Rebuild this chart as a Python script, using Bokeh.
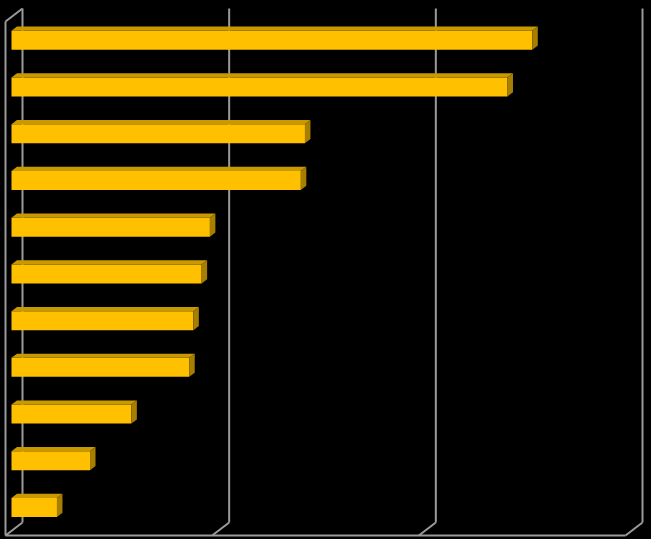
import numpy as np
from bokeh.plotting import figure
from bokeh.models import Range1d
from bokeh.embed import file_html
from bokeh.resources import INLINE

# ---- data ----
categories = ["1", "2", "3", "4", "5", "6", "7", "8", "9", "10", "11"]
values = [25.2, 24.0, 14.2, 14.0, 9.6, 9.2, 8.8, 8.6, 5.8, 3.8, 2.2]
ticks = [0, 10, 20, 30]

# ---- 3D geometry (style) ----
VMAX = ticks[-1]
N = len(categories)
DX = VMAX * 17.0 / 620.0      # depth offset in value units (full depth)
DY = 13.0 / 46.727            # depth offset in category units (full depth)
T0, T1 = 0.353, 0.676         # bar depth (front, back)
HALF = 0.4066 / 2.0           # half bar height

FRONT = "#FFC000"
TOP = "#C99A00"
SIDE = "#A67E00"
GRID = "#9A9A9A"

p = figure(width=651, height=539, output_backend="svg", toolbar_location=None,
           x_range=Range1d(-0.2419, 31.258), y_range=Range1d(11.0856, -0.4494),
           min_border=0, min_border_left=0, min_border_right=0,
           min_border_top=0, min_border_bottom=0)
p.background_fill_color = "#000000"
p.border_fill_color = "#000000"
p.outline_line_color = None
p.xaxis.visible = False
p.yaxis.visible = False
p.xgrid.visible = False
p.ygrid.visible = False

# walls / gridlines
gx, gy = [], []
for v in ticks:
    gx.append([v + DX, v + DX]); gy.append([-DY, N - DY])      # back wall vertical
    gx.append([v, v + DX]); gy.append([N, N - DY])              # floor diagonal
gx.append([0, VMAX]); gy.append([N, N])                          # floor front edge
gx.append([0, 0]); gy.append([0, N])                             # left wall front edge
gx.append([0, DX]); gy.append([0, -DY])                          # left wall top edge
p.multi_line(gx, gy, line_color=GRID, line_width=2)

# bars
vals = np.array(values, dtype=float)
yc = np.arange(N) + 0.5
ytop = yc - HALF
ybot = yc + HALF

p.quad(left=np.full(N, DX * T0), right=vals + DX * T0,
       top=ytop - DY * T0, bottom=ybot - DY * T0,
       fill_color=FRONT, line_color=None)

top_xs = [[DX * T0, v + DX * T0, v + DX * T1, DX * T1] for v in vals]
top_ys = [[a - DY * T0, a - DY * T0, a - DY * T1, a - DY * T1] for a in ytop]
p.patches(top_xs, top_ys, fill_color=TOP, line_color=None)

side_xs = [[v + DX * T0, v + DX * T0, v + DX * T1, v + DX * T1] for v in vals]
side_ys = [[a - DY * T0, b - DY * T0, b - DY * T1, a - DY * T1] for a, b in zip(ytop, ybot)]
p.patches(side_xs, side_ys, fill_color=SIDE, line_color=None)

html = file_html(p, INLINE, title="chart")
html = html.replace("<head>", "<head><style>html,body{background-color:#000000;}</style>", 1)
open("out.html", "w").write(html)
